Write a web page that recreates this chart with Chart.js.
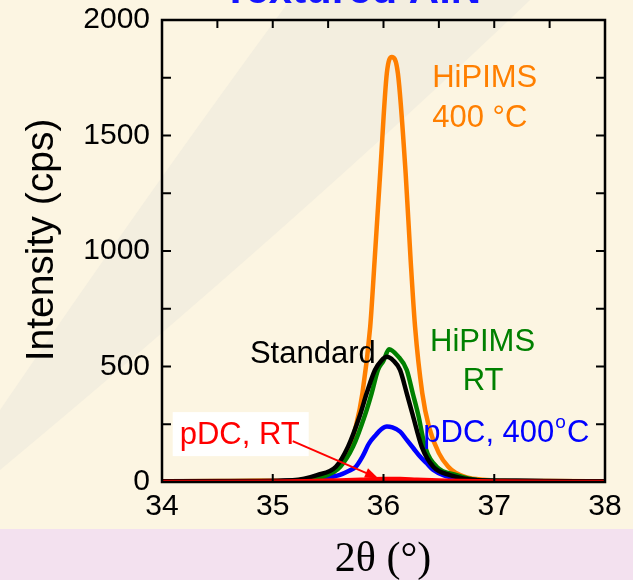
<!DOCTYPE html>
<html>
<head>
<meta charset="utf-8">
<script src="https://cdn.jsdelivr.net/npm/chart.js@4.4.0/dist/chart.umd.min.js"></script>
<style>
  html, body { margin: 0; padding: 0; background: #fcf5e2; }
  #xrd { display: block; }
</style>
</head>
<body>
<canvas id="xrd" width="633" height="580"></canvas>
<script>
// 2theta scan of the AlN (002) peak
const orangeX = [34, 34.5, 35, 35.3, 35.45, 35.55, 35.58, 35.67, 35.75, 35.81, 35.88, 35.92, 35.97, 36.03, 36.075, 36.13, 36.2, 36.245, 36.285, 36.35, 36.41, 36.5, 36.585, 36.65, 36.75, 36.9, 37.1, 37.5, 38];
const orangeY = [3, 4, 6, 10, 20, 40, 66, 125, 240, 385, 672, 961, 1336, 1769, 1840, 1769, 1336, 961, 672, 385, 240, 125, 66, 40, 20, 10, 6, 4, 3];

const greenX = [34, 34.8, 35.25, 35.49, 35.61, 35.725, 35.833, 35.893, 35.95, 36.0, 36.05, 36.13, 36.21, 36.264, 36.314, 36.375, 36.48, 36.66, 36.87, 37.2, 38];
const greenY = [2, 3, 5, 30, 66, 153, 290, 384, 485, 525, 575, 545, 485, 384, 290, 153, 66, 30, 8, 4, 2];

const blackX = [34, 34.8, 35.18, 35.4, 35.57, 35.68, 35.788, 35.848, 35.923, 35.98, 36.03, 36.09, 36.149, 36.21, 36.264, 36.345, 36.45, 36.6, 36.85, 37.2, 38];
const blackY = [3, 4, 8, 30, 66, 153, 290, 384, 485, 525, 542, 525, 485, 384, 290, 153, 66, 30, 8, 5, 3];

const blueX = [34, 34.8, 35.2, 35.45, 35.6, 35.69, 35.75, 35.81, 35.87, 35.93, 35.98, 36.03, 36.08, 36.15, 36.21, 36.27, 36.33, 36.39, 36.45, 36.54, 36.66, 36.85, 37.2, 38];
const blueY = [2, 3, 6, 16, 30, 49, 66, 110, 167, 203, 228, 240, 236, 218, 182, 146, 110, 81, 52, 30, 16, 8, 4, 2];

const redX = [34, 35, 35.3, 35.6, 35.8, 36.0, 36.15, 36.3, 36.5, 36.7, 37, 38];
const redY = [0, 1, 3, 7, 10, 13, 13, 10, 7, 4, 2, 0];

const xTicks = [34, 35, 36, 37, 38];
const yTicks = [0, 500, 1000, 1500, 2000];

const sans = '"Liberation Sans", Arial, sans-serif';
const toPoints = (xs, ys) => xs.map((x, i) => ({ x: x, y: ys[i] }));

function series(label, xs, ys, color, order) {
    return {
        label: label,
        data: toPoints(xs, ys),
        borderColor: color,
        borderWidth: 4.5,
        pointRadius: 0,
        fill: false,
        cubicInterpolationMode: 'monotone',
        order: order
    };
}

// cream slide background with a faint swirl and the pink strip at the bottom
const backdrop = {
    id: 'backdrop',
    beforeDraw(chart) {
        const c = chart.ctx;
        const w = chart.width, h = chart.height;
        c.save();
        c.fillStyle = '#fcf5e2';
        c.fillRect(0, 0, w, h);
        c.fillStyle = '#f3eedf';
        c.beginPath();
        c.moveTo(0, 410);
        c.quadraticCurveTo(150, 190, 290, 0);
        c.lineTo(530, 0);
        c.quadraticCurveTo(300, 220, 0, 470);
        c.closePath();
        c.fill();
        c.fillStyle = '#f3e1ef';
        c.fillRect(0, 529, w, h - 529);
        c.restore();
    }
};

// frame, inward ticks, titles and the curve labels
const decorations = {
    id: 'decorations',
    afterDraw(chart) {
        const c = chart.ctx;
        const a = chart.chartArea;
        const sx = chart.scales.x, sy = chart.scales.y;
        c.save();

        c.strokeStyle = '#000';
        c.lineWidth = 2;
        for (let v = 34.5; v < 38; v += 0.5) {
            const px = sx.getPixelForValue(v);
            c.beginPath(); c.moveTo(px, a.top); c.lineTo(px, a.top + 8); c.stroke();
        }
        xTicks.slice(1, -1).forEach(v => {
            const px = sx.getPixelForValue(v);
            c.beginPath(); c.moveTo(px, a.bottom); c.lineTo(px, a.bottom - 8); c.stroke();
        });
        for (let v = 250; v < 2000; v += 250) {
            const py = sy.getPixelForValue(v);
            c.beginPath(); c.moveTo(a.left, py); c.lineTo(a.left + 9, py); c.stroke();
            c.beginPath(); c.moveTo(a.right, py); c.lineTo(a.right - 9, py); c.stroke();
        }
        c.lineWidth = 2.5;
        c.strokeRect(a.left, a.top, a.right - a.left, a.bottom - a.top);

        // axis titles
        c.fillStyle = '#000';
        c.textAlign = 'center';
        c.textBaseline = 'middle';
        c.font = '42px "Liberation Serif", "Times New Roman", serif';
        c.fillText('2\u03b8 (\u00b0)', 383, 560);
        c.save();
        c.translate(42, 240);
        c.rotate(-Math.PI / 2);
        c.font = '39px ' + sans;
        c.fillText('Intensity (cps)', 0, 0);
        c.restore();

        // slide title, cut off at the top edge
        c.fillStyle = '#1414ff';
        c.font = 'bold 42px ' + sans;
        c.textBaseline = 'alphabetic';
        c.fillText('Textured AlN', 352, 3);

        c.font = '31px ' + sans;
        c.textBaseline = 'middle';
        c.textAlign = 'left';
        const at = (x, y) => [sx.getPixelForValue(x), sy.getPixelForValue(y)];

        c.fillStyle = '#ff7f00';
        let p = at(36.44, 1745);
        c.fillText('HiPIMS', p[0], p[1]);
        p = at(36.44, 1574);
        c.fillText('400 \u00b0C', p[0], p[1]);

        c.fillStyle = '#008000';
        p = at(36.42, 602);
        c.fillText('HiPIMS', p[0], p[1]);
        c.textAlign = 'center';
        p = at(36.9, 437);
        c.fillText('RT', p[0], p[1]);

        c.fillStyle = '#000';
        c.textAlign = 'right';
        p = at(35.93, 554);
        c.fillText('Standard', p[0], p[1]);

        // blue label with superscript degree
        c.fillStyle = '#0000ff';
        c.textAlign = 'left';
        p = at(36.36, 212);
        const main = 'pDC, 400';
        c.fillText(main, p[0], p[1]);
        let x = p[0] + c.measureText(main).width + 1;
        c.font = '19px ' + sans;
        c.fillText('o', x, p[1] - 10);
        x += c.measureText('o').width + 1;
        c.font = '31px ' + sans;
        c.fillText('C', x, p[1]);

        // red label on a white box with an arrow to its curve
        p = at(34.16, 203);
        const txt = 'pDC, RT';
        const tw = c.measureText(txt).width;
        c.fillStyle = '#ffffff';
        c.fillRect(p[0] - 7, p[1] - 23, tw + 16, 44);
        c.fillStyle = '#ff0000';
        c.fillText(txt, p[0], p[1]);

        const s = at(35.18, 177), e = at(35.95, 17);
        const ang = Math.atan2(e[1] - s[1], e[0] - s[0]);
        c.strokeStyle = '#ff0000';
        c.lineWidth = 2;
        c.beginPath(); c.moveTo(s[0], s[1]);
        c.lineTo(e[0] - 10 * Math.cos(ang), e[1] - 10 * Math.sin(ang)); c.stroke();
        c.beginPath();
        c.moveTo(e[0], e[1]);
        c.lineTo(e[0] - 13 * Math.cos(ang) + 5 * Math.sin(ang), e[1] - 13 * Math.sin(ang) - 5 * Math.cos(ang));
        c.lineTo(e[0] - 13 * Math.cos(ang) - 5 * Math.sin(ang), e[1] - 13 * Math.sin(ang) + 5 * Math.cos(ang));
        c.closePath();
        c.fill();

        c.restore();
    }
};

const chart = new Chart(document.getElementById('xrd'), {
    type: 'line',
    data: {
        datasets: [
            series('pDC, RT', redX, redY, '#ff0000', 0),
            series('Standard', blackX, blackY, '#000000', 1),
            series('HiPIMS RT', greenX, greenY, '#008000', 2),
            series('pDC, 400°C', blueX, blueY, '#0000ff', 3),
            series('HiPIMS 400 °C', orangeX, orangeY, '#ff7f00', 4)
        ]
    },
    options: {
        responsive: false,
        animation: false,
        layout: { padding: { top: 20, right: 28, left: 0, bottom: 0 } },
        plugins: {
            legend: { display: false },
            tooltip: { enabled: false }
        },
        scales: {
            x: {
                type: 'linear',
                min: 34,
                max: 38,
                afterBuildTicks: (scale) => { scale.ticks = xTicks.map(v => ({ value: v })); },
                ticks: { color: '#000', font: { size: 30, family: sans }, padding: 7, maxRotation: 0, callback: v => String(v) },
                grid: { display: false, drawTicks: false },
                border: { display: false },
                afterFit: (scale) => {
                    scale.height = 98;
                    scale.paddingLeft = 0;
                    scale.paddingRight = 0;
                }
            },
            y: {
                min: 0,
                max: 2000,
                afterBuildTicks: (scale) => { scale.ticks = yTicks.map(v => ({ value: v })); },
                ticks: { color: '#000', font: { size: 30, family: sans }, padding: 12, callback: v => String(v) },
                grid: { display: false, drawTicks: false },
                border: { display: false },
                afterFit: (scale) => {
                    scale.width = 162;
                    scale.paddingTop = 0;
                    scale.paddingBottom = 0;
                }
            }
        }
    },
    plugins: [backdrop, decorations]
});
</script>
</body>
</html>
